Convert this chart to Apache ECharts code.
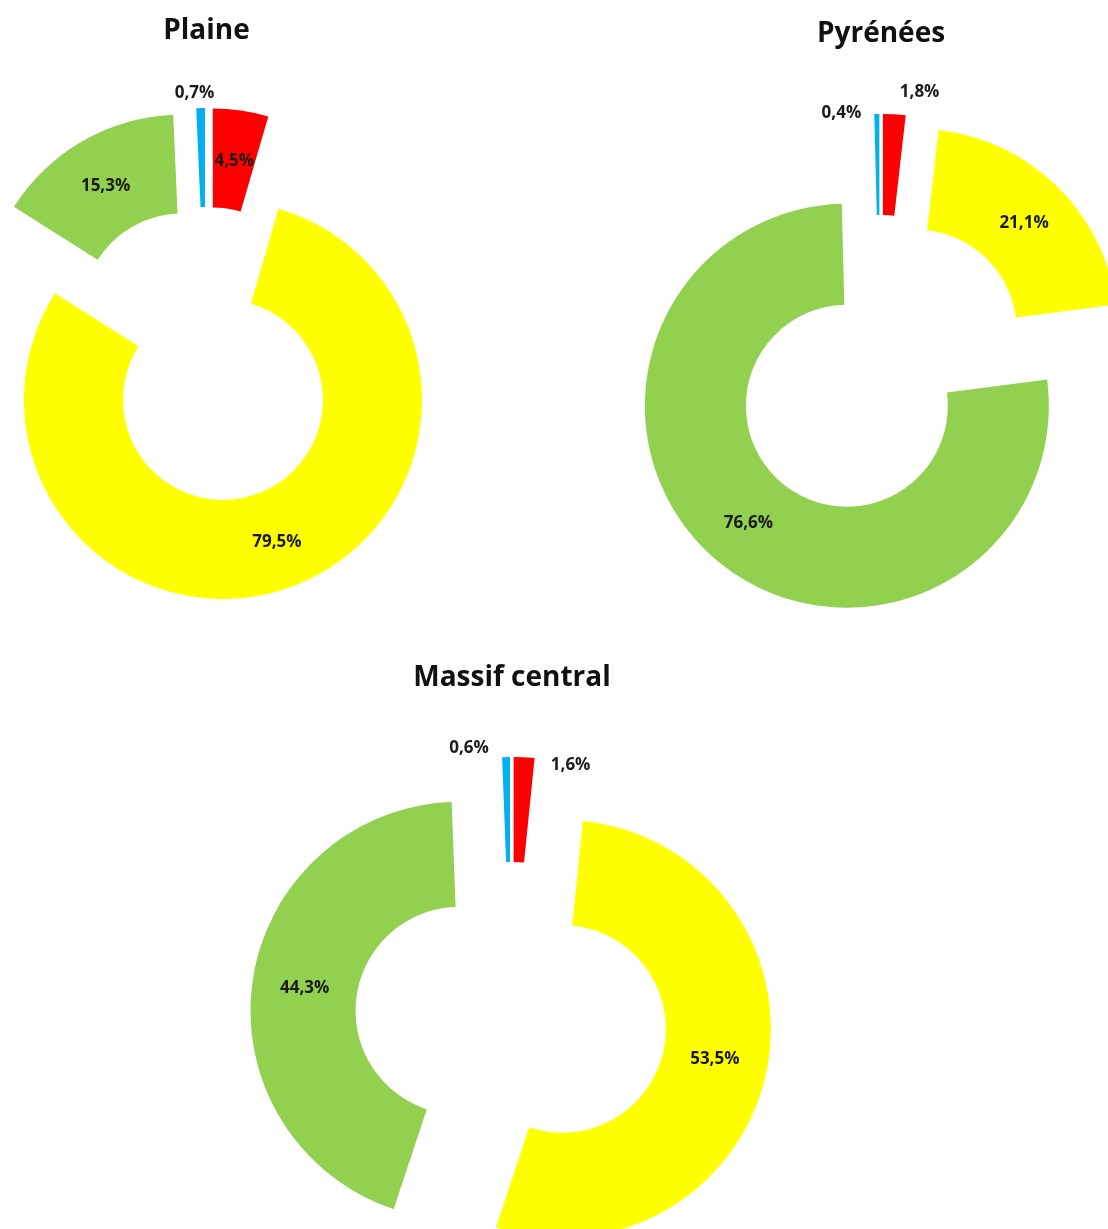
<!DOCTYPE html>
<html>
<head>
<meta charset="utf-8">
<script src="https://cdn.jsdelivr.net/npm/echarts@6/dist/echarts.min.js"></script>
<style>
html,body{margin:0;padding:0;background:#fff;}
#chart{width:1108px;height:1229px;}
</style>
</head>
<body>
<div id="chart"></div>
<script>
// ---- data ----
var categories = ['Rouge', 'Jaune', 'Vert', 'Bleu'];
var titles = ['Plaine', 'Pyrénées', 'Massif central'];
var plaineValues = [4.5, 79.5, 15.3, 0.7];
var pyreneesValues = [1.8, 21.1, 76.6, 0.4];
var massifValues = [1.6, 53.5, 44.3, 0.6];
var valueSets = [plaineValues, pyreneesValues, massifValues];

// ---- layout & style ----
var colors = ['#FF0000', '#FFFF00', '#92D050', '#00B0F0'];
var centers = [[206, 355], [880, 367], [511, 1018]];
var radii = [[100, 199], [101, 202], [104, 209]];
var offsets = [48, 51, 52];
var titlePos = [[201.5, 12], [876, 15], [507, 659]];
// label nudges [series][dataIndex] = [dx, dy]
var nudges = [
  {0: [0, 5], 2: [0, 5], 3: [-7, -61]},
  {0: [28, -70], 1: [0, 3], 2: [2, 0], 3: [-36, -48]},
  {0: [49, -42], 1: [-3, -3], 2: [3, 0], 3: [-38, -58]}
];

function fmt(v) { return v.toFixed(1).replace('.', ',') + '%'; }

var series = valueSets.map(function (vals, s) {
  return {
    type: 'pie',
    center: centers[s],
    radius: radii[s],
    startAngle: 90,
    clockwise: true,
    selectedMode: 'multiple',
    selectedOffset: offsets[s],
    avoidLabelOverlap: false,
    animation: false,
    emphasis: { disabled: true },
    select: { itemStyle: { borderWidth: 0 } },
    itemStyle: { borderWidth: 0 },
    label: {
      show: true,
      position: 'inside',
      formatter: function (p) { return fmt(p.value); },
      fontFamily: 'Open Sans',
      fontWeight: 'bold',
      fontSize: 17,
      color: '#1a1a1a'
    },
    labelLine: { show: false },
    labelLayout: function (p) {
      var n = nudges[s][p.dataIndex];
      return n ? { dx: n[0], dy: n[1] } : {};
    },
    data: vals.map(function (v, i) {
      return { name: categories[i], value: v, selected: true, itemStyle: { color: colors[i] } };
    })
  };
});

var chart = echarts.init(document.getElementById('chart'), null, { renderer: 'canvas' });
chart.setOption({
  backgroundColor: '#ffffff',
  animation: false,
  title: titles.map(function (t, i) {
    return {
      text: t,
      left: titlePos[i][0],
      top: titlePos[i][1],
      textAlign: 'center',
      textStyle: { fontFamily: 'Open Sans', fontWeight: 'bold', fontSize: 28, color: '#111111' }
    };
  }),
  series: series
});
</script>
</body>
</html>
